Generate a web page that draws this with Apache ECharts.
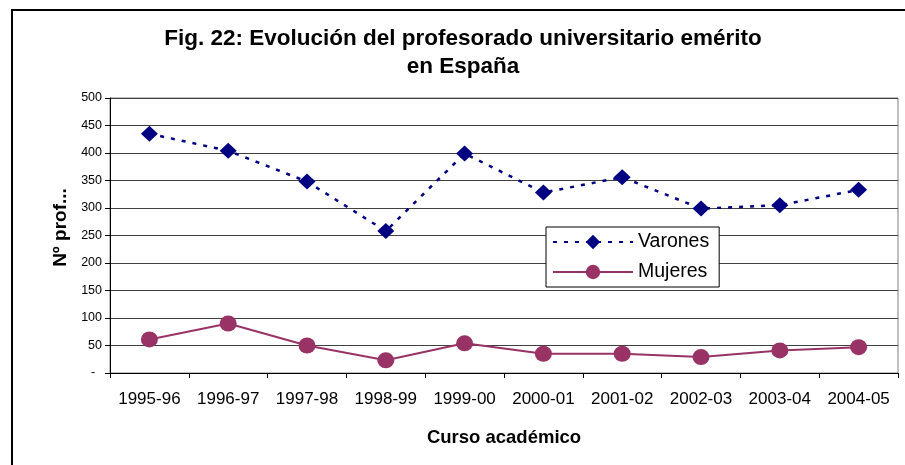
<!DOCTYPE html>
<html>
<head>
<meta charset="utf-8">
<script src="https://cdn.jsdelivr.net/npm/echarts@6/dist/echarts.min.js"></script>
<style>
  html, body { margin: 0; padding: 0; background: #fff; }
  #chart { width: 905px; height: 465px; }
</style>
</head>
<body>
<div id="chart"></div>
<script>
// cursos académicos
const cursos = ['1995-96', '1996-97', '1997-98', '1998-99', '1999-00', '2000-01', '2001-02', '2002-03', '2003-04', '2004-05'];
// nº de profesores eméritos
const varones = [435, 404, 348, 258, 399, 328, 356, 299, 305, 333];
const mujeres = [61, 90, 50, 23, 54, 35, 35, 29, 41, 47];
const yTicks = [0, 50, 100, 150, 200, 250, 300, 350, 400, 450, 500];

const FONT = '"Liberation Sans", Arial, sans-serif';

let chart = echarts.init(document.getElementById('chart'), null, {renderer: 'canvas'});

let option = {
    backgroundColor: '#fff',
    animation: false,
    title: {
        text: 'Fig. 22: Evolución del profesorado universitario emérito\nen España',
        left: 458,
        top: 20,
        textAlign: 'center',
        textStyle: {
            fontFamily: FONT,
            fontWeight: 'bold',
            fontSize: 22.5,
            lineHeight: 28,
            color: '#000'
        }
    },
    graphic: [{
        // marco exterior del gráfico
        type: 'rect',
        shape: {x: 12, y: 10, width: 1000, height: 1000},
        style: {fill: 'none', stroke: '#000', lineWidth: 2},
        silent: true
    }],
    legend: {
        orient: 'vertical',
        left: 546,
        top: 227,
        padding: [5, 10, 5, 6],
        itemWidth: 80,
        itemHeight: 18,
        itemGap: 10,
        backgroundColor: '#fff',
        borderColor: '#000',
        borderWidth: 1,
        textStyle: {fontFamily: FONT, fontSize: 19.5, color: '#000'},
        data: ['Varones', 'Mujeres']
    },
    grid: {
        left: 110,
        right: 7,
        top: 98,
        bottom: 92,
        show: true,
        borderColor: '#808080',
        borderWidth: 1,
        containLabel: false
    },
    xAxis: {
        type: 'category',
        data: cursos,
        boundaryGap: true,
        name: 'Curso académico',
        nameLocation: 'middle',
        nameGap: 65,
        nameTextStyle: {
            fontFamily: FONT, fontWeight: 'bold', fontSize: 18.5, color: '#000',
            verticalAlign: 'middle'
        },
        axisLine: {lineStyle: {color: '#000', width: 1}},
        axisTick: {show: true, length: 5, inside: false, lineStyle: {color: '#000'}},
        axisLabel: {fontFamily: FONT, fontSize: 17, color: '#000', margin: 18, interval: 0},
        splitLine: {show: false}
    },
    yAxis: {
        type: 'value',
        min: yTicks[0],
        max: yTicks[yTicks.length - 1],
        interval: yTicks[1] - yTicks[0],
        name: 'Nº prof...',
        nameLocation: 'middle',
        nameGap: 47,
        nameRotate: 90,
        nameTextStyle: {
            fontFamily: FONT, fontWeight: 'bold', fontSize: 19, color: '#000',
            verticalAlign: 'middle',
            padding: [0, 0, 0, 16]
        },
        axisLine: {show: true, lineStyle: {color: '#000', width: 1}},
        axisTick: {show: true, length: 5, lineStyle: {color: '#000'}},
        axisLabel: {
            fontFamily: FONT, fontSize: 12.5, color: '#000', margin: 8,
            formatter: function (v) { return v === 0 ? '-  ' : String(v); }
        },
        splitLine: {show: true, lineStyle: {color: '#404040', width: 1}}
    },
    series: [
        {
            name: 'Varones',
            type: 'line',
            data: varones,
            color: '#000080',
            symbol: 'diamond',
            symbolSize: [17, 16],
            showAllSymbol: true,
            lineStyle: {color: '#000080', width: 2.5, type: [4, 7]},
            itemStyle: {color: '#000080'},
            z: 3
        },
        {
            name: 'Mujeres',
            type: 'line',
            data: mujeres,
            color: '#993366',
            symbol: 'circle',
            symbolSize: [17, 16],
            showAllSymbol: true,
            lineStyle: {color: '#993366', width: 2},
            itemStyle: {color: '#993366'},
            z: 3
        }
    ]
};

chart.setOption(option);
</script>
</body>
</html>
